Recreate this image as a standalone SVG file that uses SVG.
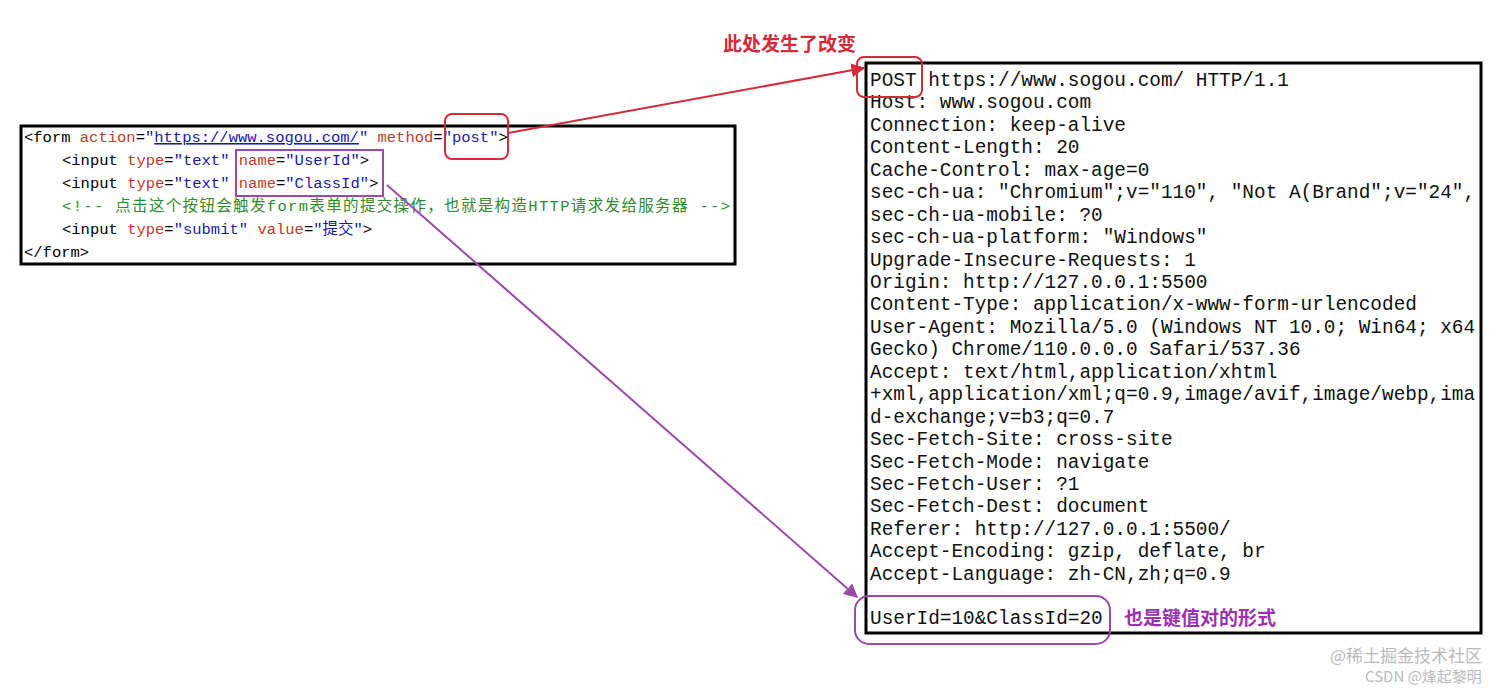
<svg xmlns="http://www.w3.org/2000/svg" width="1512" height="688" viewBox="0 0 1512 688">
<style>
.code{font-family:"Liberation Mono","Noto Sans CJK SC",monospace;font-size:15.5px}
.t{fill:#000}.a{fill:#c0392b}.v{fill:#1a1aa6}.c{fill:#2e8b2e}
.req{font-family:"Liberation Mono","Noto Sans CJK SC",monospace;font-size:19.4px;fill:#111}
.box{fill:#fff;stroke:#000;stroke-width:3}
</style>
<defs>
<marker id="ar" viewBox="0 0 10 10" refX="9" refY="5" markerWidth="7" markerHeight="7" orient="auto"><path d="M0,0 L10,5 L0,10 z" fill="#d42a3a"/></marker>
<marker id="ap" viewBox="0 0 10 10" refX="9" refY="5" markerWidth="7" markerHeight="7" orient="auto"><path d="M0,0 L10,5 L0,10 z" fill="#9b4aa8"/></marker>
</defs>
<rect width="1512" height="688" fill="#fff"/>
<g id="form-code">
<rect class="box" x="21" y="126" width="714" height="138"/>
<text class="code" x="24" y="142"><tspan class="t">&lt;form </tspan><tspan class="a">action</tspan><tspan class="t">=</tspan><tspan class="v">"</tspan><tspan class="v" text-decoration="underline">https://www.sogou.com/</tspan><tspan class="v">"</tspan><tspan class="a"> method</tspan><tspan class="t">=</tspan><tspan class="v">"post"</tspan><tspan class="t">&gt;</tspan></text>
<text class="code" x="62" y="165"><tspan class="t">&lt;input </tspan><tspan class="a">type</tspan><tspan class="t">=</tspan><tspan class="v">"text" </tspan><tspan class="a">name</tspan><tspan class="t">=</tspan><tspan class="v">"UserId"</tspan><tspan class="t">&gt;</tspan></text>
<text class="code" x="62" y="188"><tspan class="t">&lt;input </tspan><tspan class="a">type</tspan><tspan class="t">=</tspan><tspan class="v">"text" </tspan><tspan class="a">name</tspan><tspan class="t">=</tspan><tspan class="v">"ClassId"</tspan><tspan class="t">&gt;</tspan></text>
<text class="code c" x="62" y="211" textLength="668">&lt;!-- 点击这个按钮会触发form表单的提交操作，也就是构造HTTP请求发给服务器 --&gt;</text>
<text class="code" x="62" y="234"><tspan class="t">&lt;input </tspan><tspan class="a">type</tspan><tspan class="t">=</tspan><tspan class="v">"submit" </tspan><tspan class="a">value</tspan><tspan class="t">=</tspan><tspan class="v">"提交"</tspan><tspan class="t">&gt;</tspan></text>
<text class="code t" x="24" y="257">&lt;/form&gt;</text>
<rect x="445" y="114" width="63" height="45" rx="7" fill="none" stroke="#d42a3a" stroke-width="2"/>
<rect x="236" y="150" width="147" height="46" fill="none" stroke="#9b4aa8" stroke-width="2"/>
</g>
<g id="http-request">
<rect class="box" x="866" y="63" width="615" height="570"/>
<text class="req" x="870" y="86">POST https://www.sogou.com/ HTTP/1.1</text>
<text class="req" x="870" y="108">Host: www.sogou.com</text>
<text class="req" x="870" y="131">Connection: keep-alive</text>
<text class="req" x="870" y="153">Content-Length: 20</text>
<text class="req" x="870" y="176">Cache-Control: max-age=0</text>
<text class="req" x="870" y="198">sec-ch-ua: "Chromium";v="110", "Not A(Brand";v="24",</text>
<text class="req" x="870" y="221">sec-ch-ua-mobile: ?0</text>
<text class="req" x="870" y="243">sec-ch-ua-platform: "Windows"</text>
<text class="req" x="870" y="266">Upgrade-Insecure-Requests: 1</text>
<text class="req" x="870" y="288">Origin: http://127.0.0.1:5500</text>
<text class="req" x="870" y="310">Content-Type: application/x-www-form-urlencoded</text>
<text class="req" x="870" y="333">User-Agent: Mozilla/5.0 (Windows NT 10.0; Win64; x64</text>
<text class="req" x="870" y="355">Gecko) Chrome/110.0.0.0 Safari/537.36</text>
<text class="req" x="870" y="378">Accept: text/html,application/xhtml</text>
<text class="req" x="870" y="400">+xml,application/xml;q=0.9,image/avif,image/webp,ima</text>
<text class="req" x="870" y="423">d-exchange;v=b3;q=0.7</text>
<text class="req" x="870" y="445">Sec-Fetch-Site: cross-site</text>
<text class="req" x="870" y="468">Sec-Fetch-Mode: navigate</text>
<text class="req" x="870" y="490">Sec-Fetch-User: ?1</text>
<text class="req" x="870" y="512">Sec-Fetch-Dest: document</text>
<text class="req" x="870" y="535">Referer: http://127.0.0.1:5500/</text>
<text class="req" x="870" y="557">Accept-Encoding: gzip, deflate, br</text>
<text class="req" x="870" y="580">Accept-Language: zh-CN,zh;q=0.9</text>
<text class="req" x="870" y="624">UserId=10&amp;ClassId=20</text>
<rect x="857" y="57" width="65" height="40" rx="7" fill="none" stroke="#d42a3a" stroke-width="2"/>
<rect x="855" y="596" width="255" height="48" rx="14" fill="none" stroke="#9b4aa8" stroke-width="2"/>
</g>
<g id="labels" font-family="'Noto Sans CJK SC',sans-serif" font-weight="bold" font-size="19">
<text x="723" y="51" fill="#d42a3a">此处发生了改变</text>
<text x="1124" y="625" fill="#9b30b0">也是键值对的形式</text>
</g>
<g id="connectors" fill="none" stroke-width="2">
<line x1="508" y1="133" x2="864" y2="68" stroke="#d42a3a" marker-end="url(#ar)"/>
<line x1="387" y1="185" x2="857" y2="597" stroke="#9b4aa8" marker-end="url(#ap)"/>
</g>
<g id="watermark" font-family="'Noto Sans CJK SC',sans-serif" fill="#bbb">
<text x="1330" y="662" font-size="17">@稀土掘金技术社区</text>
<text x="1365" y="682" font-size="15">CSDN @烽起黎明</text>
</g>
</svg>
